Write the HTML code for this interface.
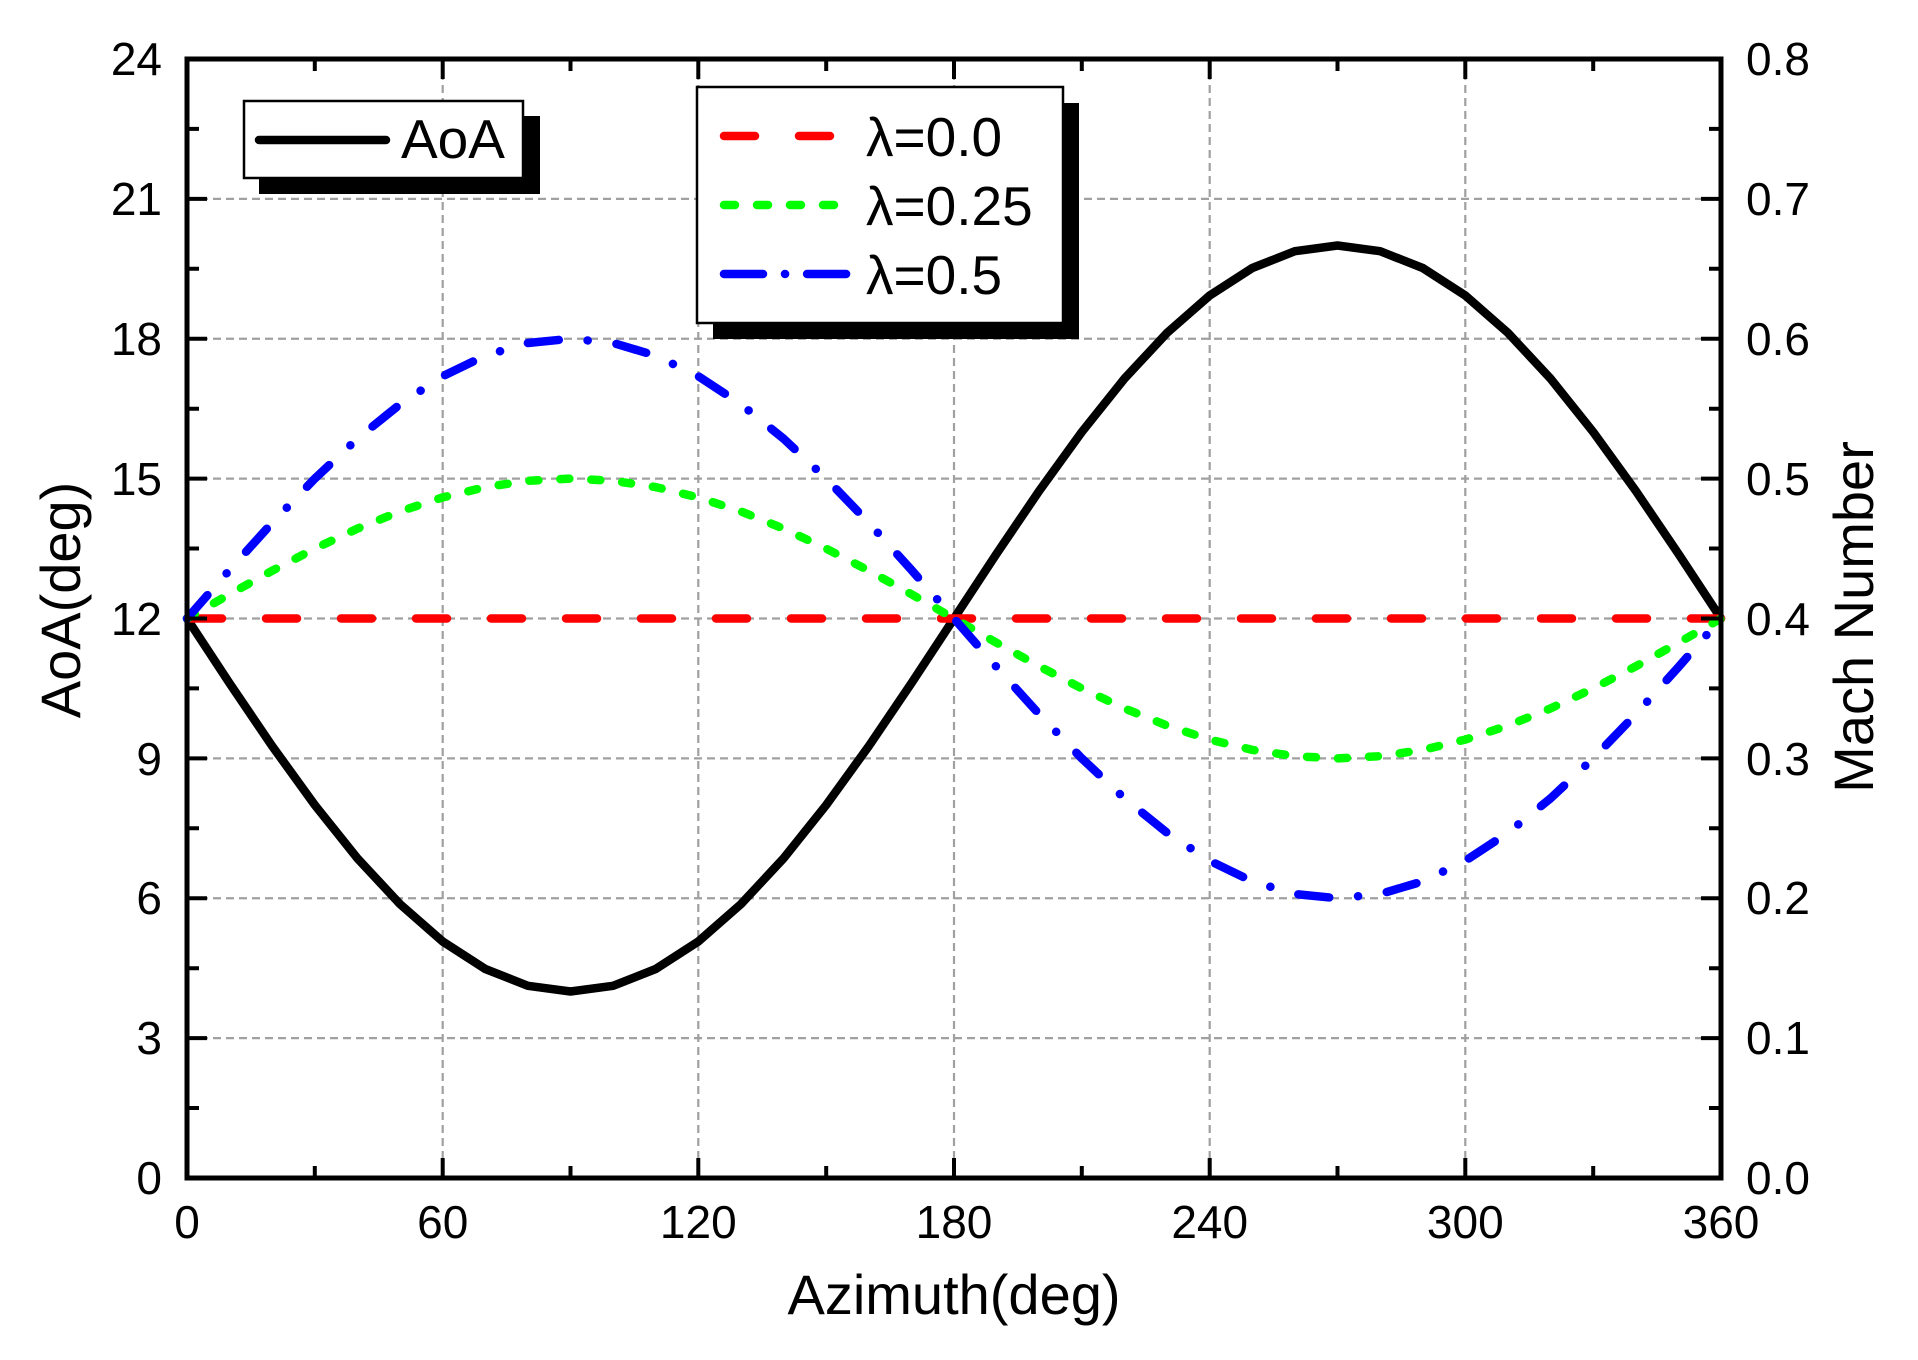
<!DOCTYPE html>
<html><head><meta charset="utf-8"><style>
html,body{margin:0;padding:0;background:#fff;}
svg{display:block;}
text{font-family:"Liberation Sans",Arial,sans-serif;fill:#000;}
</style></head><body>
<svg width="1918" height="1360" viewBox="0 0 1918 1360" xmlns="http://www.w3.org/2000/svg">
<rect width="1918" height="1360" fill="#fff"/>
<g stroke="#a0a0a0" stroke-width="2.2" stroke-dasharray="8 5" fill="none">
<line x1="442.7" y1="59" x2="442.7" y2="1178"/>
<line x1="698.3" y1="59" x2="698.3" y2="1178"/>
<line x1="954" y1="59" x2="954" y2="1178"/>
<line x1="1209.7" y1="59" x2="1209.7" y2="1178"/>
<line x1="1465.3" y1="59" x2="1465.3" y2="1178"/>
<line x1="187" y1="198.9" x2="1721" y2="198.9"/>
<line x1="187" y1="338.75" x2="1721" y2="338.75"/>
<line x1="187" y1="478.6" x2="1721" y2="478.6"/>
<line x1="187" y1="618.5" x2="1721" y2="618.5"/>
<line x1="187" y1="758.4" x2="1721" y2="758.4"/>
<line x1="187" y1="898.25" x2="1721" y2="898.25"/>
<line x1="187" y1="1038.1" x2="1721" y2="1038.1"/>
</g>
<g fill="none" stroke-width="8.5" stroke-linejoin="round">
<polyline stroke="#000" stroke-linecap="round" points="187,618.5 229.6,683.3 272.2,746.1 314.8,805 357.4,858.3 400.1,904.2 442.7,941.5 485.3,969 527.9,985.8 570.5,991.5 613.1,985.8 655.7,969 698.3,941.5 740.9,904.2 783.6,858.3 826.2,805 868.8,746.1 911.4,683.3 954,618.5 996.6,553.7 1039.2,490.9 1081.8,432 1124.4,378.7 1167.1,332.8 1209.7,295.5 1252.3,268 1294.9,251.2 1337.5,245.5 1380.1,251.2 1422.7,268 1465.3,295.5 1507.9,332.8 1550.6,378.7 1593.2,432 1635.8,490.9 1678.4,553.7 1721,618.5"/>
<line x1="191" y1="618.5" x2="1721" y2="618.5" stroke="#ff0000" stroke-linecap="round" stroke-dasharray="31 44"/>
<polyline stroke="#00ff00" stroke-linecap="round" stroke-dasharray="9 22" points="187,618.5 229.6,594.2 272.2,570.7 314.8,548.6 357.4,528.6 400.1,511.4 442.7,497.4 485.3,487.1 527.9,480.8 570.5,478.6 613.1,480.8 655.7,487.1 698.3,497.4 740.9,511.4 783.6,528.6 826.2,548.6 868.8,570.7 911.4,594.2 954,618.5 996.6,642.8 1039.2,666.3 1081.8,688.4 1124.4,708.4 1167.1,725.6 1209.7,739.6 1252.3,749.9 1294.9,756.2 1337.5,758.4 1380.1,756.2 1422.7,749.9 1465.3,739.6 1507.9,725.6 1550.6,708.4 1593.2,688.4 1635.8,666.3 1678.4,642.8 1721,618.5"/>
<polyline stroke="#0000ff" stroke-linecap="round" stroke-dasharray="31 29 0.1 29" points="187,618.5 229.6,569.9 272.2,522.8 314.8,478.6 357.4,438.7 400.1,404.2 442.7,376.2 485.3,355.6 527.9,343 570.5,338.75 613.1,343 655.7,355.6 698.3,376.2 740.9,404.2 783.6,438.7 826.2,478.6 868.8,522.8 911.4,569.9 954,618.5 996.6,667.1 1039.2,714.2 1081.8,758.4 1124.4,798.3 1167.1,832.8 1209.7,860.8 1252.3,881.4 1294.9,894 1337.5,898.25 1380.1,894 1422.7,881.4 1465.3,860.8 1507.9,832.8 1550.6,798.3 1593.2,758.4 1635.8,714.2 1678.4,667.1 1721,618.5"/>
</g>
<g stroke="#000" stroke-width="4">
<path d="M314.8,1178v-12M442.7,1178v-20M570.5,1178v-12M698.3,1178v-20M826.2,1178v-12M954,1178v-20M1081.8,1178v-12M1209.7,1178v-20M1337.5,1178v-12M1465.3,1178v-20M1593.2,1178v-12"/>
<path d="M314.8,59v12M442.7,59v20M570.5,59v12M698.3,59v20M826.2,59v12M954,59v20M1081.8,59v12M1209.7,59v20M1337.5,59v12M1465.3,59v20M1593.2,59v12"/>
<path d="M187,128.9h12M187,198.9h20M187,268.8h12M187,338.75h20M187,408.7h12M187,478.6h20M187,548.5h12M187,618.5h20M187,688.4h12M187,758.4h20M187,828.3h12M187,898.25h20M187,968.2h12M187,1038.1h20M187,1108h12"/>
<path d="M1721,128.9h-12M1721,198.9h-20M1721,268.8h-12M1721,338.75h-20M1721,408.7h-12M1721,478.6h-20M1721,548.5h-12M1721,618.5h-20M1721,688.4h-12M1721,758.4h-20M1721,828.3h-12M1721,898.25h-20M1721,968.2h-12M1721,1038.1h-20M1721,1108h-12"/>
</g>
<rect x="187" y="59" width="1534" height="1119" fill="none" stroke="#000" stroke-width="5"/>
<g font-size="46" text-anchor="end">
<text x="162" y="75">24</text><text x="162" y="215">21</text><text x="162" y="355">18</text><text x="162" y="495">15</text><text x="162" y="635">12</text><text x="162" y="775">9</text><text x="162" y="914">6</text><text x="162" y="1054">3</text><text x="162" y="1194">0</text>
</g>
<g font-size="46" text-anchor="start">
<text x="1746" y="75">0.8</text><text x="1746" y="215">0.7</text><text x="1746" y="355">0.6</text><text x="1746" y="495">0.5</text><text x="1746" y="635">0.4</text><text x="1746" y="775">0.3</text><text x="1746" y="914">0.2</text><text x="1746" y="1054">0.1</text><text x="1746" y="1194">0.0</text>
</g>
<g font-size="46" text-anchor="middle">
<text x="187" y="1238">0</text><text x="442.7" y="1238">60</text><text x="698.3" y="1238">120</text><text x="954" y="1238">180</text><text x="1209.7" y="1238">240</text><text x="1465.3" y="1238">300</text><text x="1721" y="1238">360</text>
</g>
<text x="954" y="1314" font-size="56" text-anchor="middle">Azimuth(deg)</text>
<text transform="translate(80,600) rotate(-90)" font-size="56" text-anchor="middle">AoA(deg)</text>
<text transform="translate(1873,617) rotate(-90)" font-size="56" text-anchor="middle">Mach Number</text>
<rect x="259" y="116" width="281" height="78" fill="#000"/>
<rect x="244" y="101" width="279" height="77" fill="#fff" stroke="#000" stroke-width="2.5"/>
<line x1="259" y1="140" x2="386" y2="140" stroke="#000" stroke-width="8.5" stroke-linecap="round"/>
<text x="401" y="158" font-size="55">AoA</text>
<rect x="713" y="103" width="366" height="236" fill="#000"/>
<rect x="697" y="87" width="366" height="236" fill="#fff" stroke="#000" stroke-width="2.5"/>
<line x1="724" y1="136" x2="852" y2="136" stroke="#ff0000" stroke-width="8.5" stroke-linecap="round" stroke-dasharray="31 44"/>
<line x1="724" y1="205" x2="852" y2="205" stroke="#00ff00" stroke-width="8.5" stroke-linecap="round" stroke-dasharray="11 22"/>
<line x1="724" y1="274" x2="850" y2="274" stroke="#0000ff" stroke-width="8.5" stroke-linecap="round" stroke-dasharray="39 22 0.1 22"/>
<g font-size="55"><text x="866" y="156">λ=0.0</text><text x="866" y="225">λ=0.25</text><text x="866" y="294">λ=0.5</text></g>
</svg>
</body></html>
